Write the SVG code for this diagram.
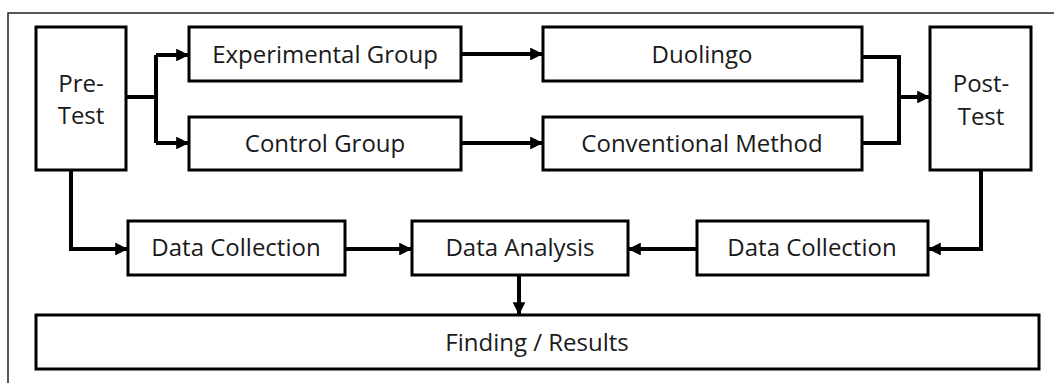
<svg xmlns="http://www.w3.org/2000/svg" width="1054" height="383" viewBox="0 0 1054 383">
<defs>
<style>
.box{fill:#fff;stroke:#000;stroke-width:3}
.lbl{font-family:"Open Sans","Liberation Sans",sans-serif;font-size:24px;fill:#1a1a1a;text-anchor:middle}
.con{fill:none;stroke:#000;stroke-width:4;stroke-linejoin:miter}
</style>
<marker id="ah" viewBox="0 0 10 10" refX="10" refY="5" markerWidth="4" markerHeight="3.2" orient="auto" markerUnits="strokeWidth">
<path d="M0,0 L10,5 L0,10 z" fill="#000"/>
</marker>
</defs>
<rect width="1054" height="383" fill="#fff"/>
<path d="M8,383 L8,13 L1054,13" fill="none" stroke="#222" stroke-width="1.5"/>
<g id="connectors">
<path class="con" d="M126,97 H156"/>
<path class="con" d="M156,55 V143"/>
<path class="con" d="M156,55 H189" marker-end="url(#ah)"/>
<path class="con" d="M156,143 H189" marker-end="url(#ah)"/>
<path class="con" d="M461,54 H543" marker-end="url(#ah)"/>
<path class="con" d="M461,143 H543" marker-end="url(#ah)"/>
<path class="con" d="M862,57 H899 V143 H862"/>
<path class="con" d="M899,97 H930" marker-end="url(#ah)"/>
<path class="con" d="M71,170 V249 H128" marker-end="url(#ah)"/>
<path class="con" d="M345,249 H412" marker-end="url(#ah)"/>
<path class="con" d="M697,249 H628" marker-end="url(#ah)"/>
<path class="con" d="M981,170 V249 H928" marker-end="url(#ah)"/>
<path class="con" d="M519,275 V315" marker-end="url(#ah)"/>
</g>
<g id="pretest"><rect class="box" x="36" y="27" width="90" height="143"/><text class="lbl" x="81" y="92">Pre-</text><text class="lbl" x="81" y="124">Test</text></g>
<g id="experimental"><rect class="box" x="189" y="27" width="272" height="54"/><text class="lbl" x="325" y="63">Experimental Group</text></g>
<g id="control"><rect class="box" x="189" y="117" width="272" height="53"/><text class="lbl" x="325" y="152">Control Group</text></g>
<g id="duolingo"><rect class="box" x="543" y="27" width="319" height="54"/><text class="lbl" x="702" y="63">Duolingo</text></g>
<g id="conventional"><rect class="box" x="543" y="117" width="319" height="53"/><text class="lbl" x="702" y="152">Conventional Method</text></g>
<g id="posttest"><rect class="box" x="930" y="27" width="101" height="143"/><text class="lbl" x="981" y="92">Post-</text><text class="lbl" x="981" y="125">Test</text></g>
<g id="datacollection1"><rect class="box" x="128" y="221" width="217" height="54"/><text class="lbl" x="236" y="256">Data Collection</text></g>
<g id="dataanalysis"><rect class="box" x="412" y="221" width="216" height="54"/><text class="lbl" x="520" y="256">Data Analysis</text></g>
<g id="datacollection2"><rect class="box" x="697" y="221" width="231" height="54"/><text class="lbl" x="812" y="256">Data Collection</text></g>
<g id="finding"><rect class="box" x="36" y="315" width="1003" height="54"/><text class="lbl" x="537" y="351">Finding / Results</text></g>
</svg>
